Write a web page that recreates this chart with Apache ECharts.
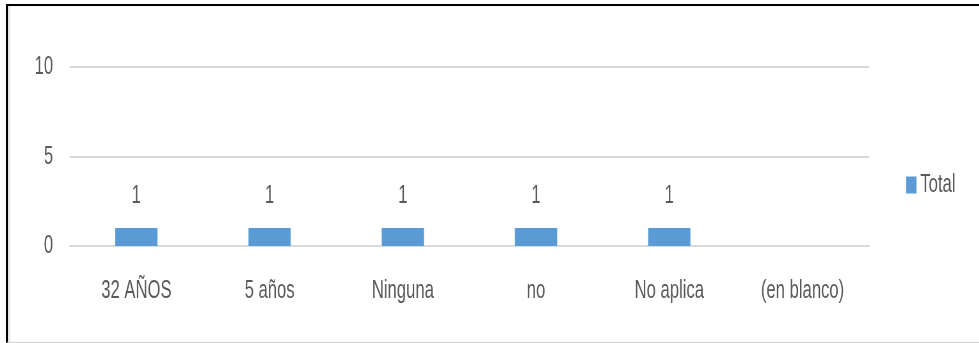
<!DOCTYPE html>
<html>
<head>
<meta charset="utf-8">
<script src="https://cdn.jsdelivr.net/npm/echarts@6/dist/echarts.min.js"></script>
<style>
  html, body { margin: 0; padding: 0; background: #fff; width: 979px; height: 343px; overflow: hidden; }
  #frame {
    position: absolute; left: 6px; top: 4px; width: 1000px; height: 336px;
    border-top: 2px solid #000; border-left: 2px solid #000; border-bottom: 1px solid #d4d4d4;
    box-shadow: inset 2px 0 2px #e2e2e2;
  }
  /* the chart is laid out wide and then compressed horizontally to get the narrow lettering */
  #chart {
    position: absolute; left: 0; top: 0; width: 1530px; height: 343px;
    transform: scaleX(0.64); transform-origin: 0 0;
  }
</style>
</head>
<body>
<div id="frame"></div>
<div id="chart"></div>
<script>
const categories = ['32 AÑOS', '5 años', 'Ninguna', 'no', 'No aplica', '(en blanco)'];
const totals = [1, 1, 1, 1, 1, null];
const seriesName = 'Total';

const textColor = '#595959';
const fontFamily = '"Liberation Sans", Arial, sans-serif';

const chart = echarts.init(document.getElementById('chart'), null, { renderer: 'canvas' });
chart.setOption({
  animation: false,
  backgroundColor: 'transparent',
  textStyle: { fontFamily: fontFamily },
  grid: { left: 109, right: 172, top: 67, bottom: 97, containLabel: false },
  legend: {
    data: [seriesName],
    left: 1411,
    top: 167,
    itemWidth: 16,
    itemHeight: 17,
    itemGap: 10,
    icon: 'rect',
    textStyle: { color: textColor, fontSize: 26, fontFamily: fontFamily, padding: [0, 0, 0, 1] }
  },
  xAxis: {
    type: 'category',
    data: categories,
    axisLine: { show: true, lineStyle: { color: '#d9d9d9', width: 2 } },
    axisTick: { show: false },
    axisLabel: { color: textColor, fontSize: 26, fontFamily: fontFamily, margin: 32, interval: 0 }
  },
  yAxis: {
    type: 'value',
    min: 0,
    max: 10,
    interval: 5,
    axisLine: { show: false },
    axisTick: { show: false },
    splitLine: { lineStyle: { color: '#d9d9d9', width: 2 } },
    axisLabel: { color: textColor, fontSize: 26, fontFamily: fontFamily, margin: 26 }
  },
  series: [{
    name: seriesName,
    type: 'bar',
    data: totals,
    barWidth: 66,
    itemStyle: { color: '#5b9bd5' },
    label: {
      show: true,
      position: 'top',
      distance: 19,
      color: textColor,
      fontSize: 26,
      fontFamily: fontFamily
    }
  }]
});
</script>
</body>
</html>
